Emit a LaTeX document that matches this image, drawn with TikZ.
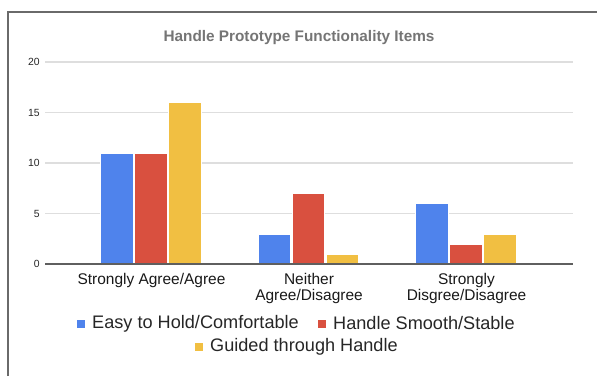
\documentclass[tikz,border=0pt]{standalone}
\usepackage{fontspec}
\setmainfont{Liberation Sans}
\usetikzlibrary{positioning}
\definecolor{chartblue}{HTML}{4F83EC}
\definecolor{chartred}{HTML}{D9503F}
\definecolor{chartyellow}{HTML}{F1BF42}
\definecolor{gridgray}{HTML}{DEDEDE}
\definecolor{axisgray}{HTML}{5F5F5F}
\definecolor{titlegray}{HTML}{757575}
\definecolor{framegray}{HTML}{6A6A6A}

\begin{document}
\begin{tikzpicture}[
      x=0.75pt, y=-0.75pt,
      every node/.style={inner sep=0pt},
      ticklabel/.style={font=\fontsize{7.8}{9}\selectfont, anchor=east, text=black!85},
      catlabel/.style={font=\fontsize{11.6}{12}\selectfont, align=center, text=black!90},
      legtext/.style={font=\fontsize{13.6}{16}\selectfont, anchor=west, text=black!85},
      legkey/.style={minimum size=6pt, inner sep=0pt},
      gridline/.style={draw=gridgray, line width=0.8pt},
      bar/.style={draw=white, line width=0.3pt},
    ]
    \useasboundingbox (0,0) rectangle (597,376);
    % Frame
    \draw[framegray, line width=1pt] (8,376) -- (8,12) -- (597,12);

    % Title
    \node[font=\fontsize{11.5}{13}\bfseries, text=titlegray] (title) at (299,38)
      {Handle Prototype Functionality Items};

    % Grid and ticks
    \foreach \v in {5,10,15,20}
      \draw[gridline] (45,{264-10.1*\v}) -- (573,{264-10.1*\v});
    \foreach \v in {0,5,10,15,20}
      \node[ticklabel] (t\v) at (40,{264-10.1*\v}) {\v};

    % Bars
    \foreach \c/\a/\b/\d in {151.5/11/11/16, 309/3/7/1, 466.5/6/2/3} {
      \fill[chartblue, bar] ({\c-51},264) rectangle ({\c-18.5},{264-10.1*\a});
      \fill[chartred, bar] ({\c-17},264) rectangle ({\c+15.5},{264-10.1*\b});
      \fill[chartyellow, bar] ({\c+17},264) rectangle ({\c+49.5},{264-10.1*\d});
    }
    \draw[axisgray, line width=1pt] (45,264) -- (573,264);

    % Category labels
    \node[catlabel] (c1) at (151.5,280) {Strongly Agree/Agree};
    \node[catlabel] (c2) at (309,288) {Neither\\Agree/Disagree};
    \node[catlabel] (c3) at (466.5,288) {Strongly\\Disgree/Disagree};

    % Legend
    \node[legkey, fill=chartblue] (k1) at (81,323.5) {};
    \node[legtext, right=5pt of k1] (l1) {Easy to Hold/Comfortable};
    \node[legkey, fill=chartred] (k2) at (322,323.5) {};
    \node[legtext, right=5pt of k2] (l2) {Handle Smooth/Stable};
    \node[legkey, fill=chartyellow] (k3) at (199,346.5) {};
    \node[legtext, right=5pt of k3] (l3) {Guided through Handle};
  \end{tikzpicture}
\end{document}
